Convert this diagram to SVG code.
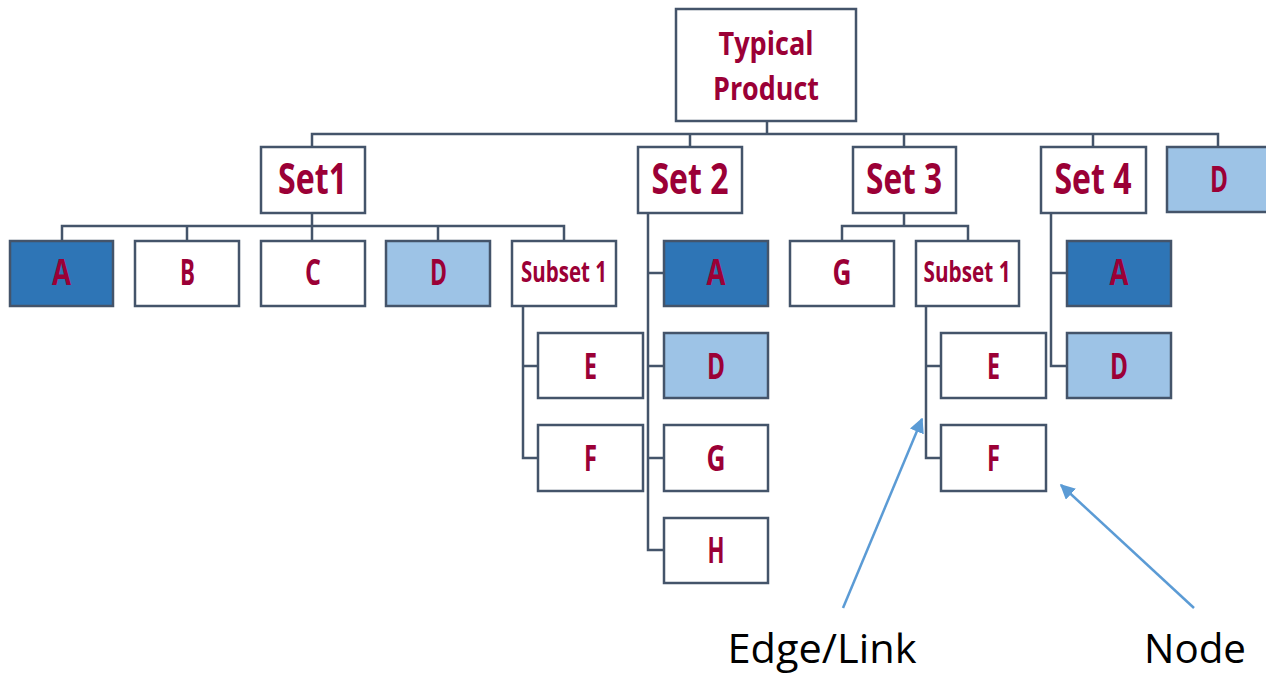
<svg xmlns="http://www.w3.org/2000/svg" width="1266" height="674" viewBox="0 0 1266 674">
  <defs>
    <style>
      .box { fill: #ffffff; stroke: #44546a; stroke-width: 2.5; }
      .dark { fill: #2e75b6; }
      .light { fill: #9dc3e6; }
      .lbl { font-family: "Open Sans", "Liberation Sans", sans-serif; font-weight: bold; fill: #9b0036; text-anchor: middle; }
      .big { font-size: 43px; }
      .mid { font-size: 35px; }
      .sub { font-size: 28px; }
      .top { font-size: 33px; }
      .wire { fill: none; stroke: #44546a; stroke-width: 2.5; stroke-linecap: square; }
      .pointer { fill: none; stroke: #5b9bd5; stroke-width: 2.5; marker-end: url(#head); }
      .note { font-family: "Open Sans", "Liberation Sans", sans-serif; font-size: 41px; fill: #000000; text-anchor: middle; }
    </style>
    <marker id="head" viewBox="0 0 10 10" refX="9" refY="5" markerWidth="6" markerHeight="6" markerUnits="strokeWidth" orient="auto">
      <path d="M0,0 L10,5 L0,10 z" fill="#5b9bd5"/>
    </marker>
  </defs>

  <rect width="1266" height="674" fill="#ffffff"/>

  <!-- tree connectors -->
  <g id="connectors" class="wire">
    <path d="M767,121 V134 M312,134 H1218 M312,134 V147 M690,134 V147 M904,134 V147 M1093,134 V147 M1218,134 V147"/>
    <!-- Set1 children -->
    <path d="M312,213 V226 M62,226 H564 M62,226 V241 M187,226 V241 M312,226 V241 M438,226 V241 M564,226 V241"/>
    <!-- Set1 / Subset 1 children -->
    <path d="M523,306 V458 M523,366 H538 M523,458 H538"/>
    <!-- Set2 children -->
    <path d="M648,213 V550 M648,273 H664 M648,366 H664 M648,458 H664 M648,550 H664"/>
    <!-- Set3 children -->
    <path d="M904,213 V226 M842,226 H968 M842,226 V241 M968,226 V241"/>
    <!-- Set3 / Subset 1 children -->
    <path d="M926,306 V458 M926,366 H941 M926,458 H941"/>
    <!-- Set4 children -->
    <path d="M1051,213 V366 M1051,273 H1067 M1051,366 H1067"/>
  </g>

  <!-- root -->
  <g id="typical-product">
    <rect class="box" x="676" y="9" width="180" height="112"/>
    <text class="lbl top" x="766" y="55" textLength="95" lengthAdjust="spacingAndGlyphs">Typical</text>
    <text class="lbl top" x="766" y="100" textLength="106" lengthAdjust="spacingAndGlyphs">Product</text>
  </g>

  <!-- level 1 -->
  <g id="set1">
    <rect class="box" x="261" y="147" width="104" height="66"/>
    <text class="lbl big" x="312.5" y="194" textLength="69" lengthAdjust="spacingAndGlyphs">Set1</text>
  </g>
  <g id="set2">
    <rect class="box" x="638" y="147" width="104" height="66"/>
    <text class="lbl big" x="690" y="194" textLength="77" lengthAdjust="spacingAndGlyphs">Set 2</text>
  </g>
  <g id="set3">
    <rect class="box" x="853" y="147" width="103" height="66"/>
    <text class="lbl big" x="904" y="194" textLength="76" lengthAdjust="spacingAndGlyphs">Set 3</text>
  </g>
  <g id="set4">
    <rect class="box" x="1041" y="147" width="105" height="66"/>
    <text class="lbl big" x="1093" y="194" textLength="77" lengthAdjust="spacingAndGlyphs">Set 4</text>
  </g>
  <g id="d-top">
    <rect class="box light" x="1167" y="147" width="103" height="65"/>
    <text class="lbl mid" x="1219" y="192" textLength="18" lengthAdjust="spacingAndGlyphs">D</text>
  </g>

  <!-- Set1 children -->
  <g id="set1-a">
    <rect class="box dark" x="10" y="241" width="103" height="65"/>
    <text class="lbl mid" x="61.5" y="285" textLength="19" lengthAdjust="spacingAndGlyphs">A</text>
  </g>
  <g id="set1-b">
    <rect class="box" x="135" y="241" width="104" height="65"/>
    <text class="lbl mid" x="187.5" y="285" textLength="15" lengthAdjust="spacingAndGlyphs">B</text>
  </g>
  <g id="set1-c">
    <rect class="box" x="261" y="241" width="104" height="65"/>
    <text class="lbl mid" x="313" y="285" textLength="16" lengthAdjust="spacingAndGlyphs">C</text>
  </g>
  <g id="set1-d">
    <rect class="box light" x="386" y="241" width="104" height="65"/>
    <text class="lbl mid" x="438.5" y="285" textLength="17" lengthAdjust="spacingAndGlyphs">D</text>
  </g>
  <g id="set1-subset1">
    <rect class="box" x="512" y="241" width="104" height="65"/>
    <text class="lbl sub" x="564" y="282" textLength="86" lengthAdjust="spacingAndGlyphs">Subset 1</text>
  </g>
  <g id="set1-subset1-e">
    <rect class="box" x="538" y="333" width="105" height="65"/>
    <text class="lbl mid" x="590.5" y="379" textLength="13" lengthAdjust="spacingAndGlyphs">E</text>
  </g>
  <g id="set1-subset1-f">
    <rect class="box" x="538" y="425" width="105" height="66"/>
    <text class="lbl mid" x="590.5" y="471" textLength="13" lengthAdjust="spacingAndGlyphs">F</text>
  </g>

  <!-- Set2 children -->
  <g id="set2-a">
    <rect class="box dark" x="664" y="241" width="104" height="65"/>
    <text class="lbl mid" x="716" y="285" textLength="19" lengthAdjust="spacingAndGlyphs">A</text>
  </g>
  <g id="set2-d">
    <rect class="box light" x="664" y="333" width="104" height="65"/>
    <text class="lbl mid" x="716" y="379" textLength="18" lengthAdjust="spacingAndGlyphs">D</text>
  </g>
  <g id="set2-g">
    <rect class="box" x="664" y="425" width="104" height="66"/>
    <text class="lbl mid" x="716" y="471" textLength="19" lengthAdjust="spacingAndGlyphs">G</text>
  </g>
  <g id="set2-h">
    <rect class="box" x="664" y="518" width="104" height="65"/>
    <text class="lbl mid" x="716" y="563" textLength="17" lengthAdjust="spacingAndGlyphs">H</text>
  </g>

  <!-- Set3 children -->
  <g id="set3-g">
    <rect class="box" x="790" y="241" width="104" height="65"/>
    <text class="lbl mid" x="842" y="285" textLength="19" lengthAdjust="spacingAndGlyphs">G</text>
  </g>
  <g id="set3-subset1">
    <rect class="box" x="916" y="241" width="103" height="65"/>
    <text class="lbl sub" x="967" y="282" textLength="87" lengthAdjust="spacingAndGlyphs">Subset 1</text>
  </g>
  <g id="set3-subset1-e">
    <rect class="box" x="941" y="333" width="105" height="65"/>
    <text class="lbl mid" x="993.5" y="379" textLength="13" lengthAdjust="spacingAndGlyphs">E</text>
  </g>
  <g id="set3-subset1-f">
    <rect class="box" x="941" y="425" width="105" height="66"/>
    <text class="lbl mid" x="993.5" y="471" textLength="13" lengthAdjust="spacingAndGlyphs">F</text>
  </g>

  <!-- Set4 children -->
  <g id="set4-a">
    <rect class="box dark" x="1067" y="241" width="104" height="65"/>
    <text class="lbl mid" x="1119" y="285" textLength="19" lengthAdjust="spacingAndGlyphs">A</text>
  </g>
  <g id="set4-d">
    <rect class="box light" x="1067" y="333" width="104" height="65"/>
    <text class="lbl mid" x="1119" y="379" textLength="18" lengthAdjust="spacingAndGlyphs">D</text>
  </g>

  <!-- annotations -->
  <g id="annotations">
    <line class="pointer" x1="843" y1="608" x2="922" y2="419"/>
    <line class="pointer" x1="1194" y1="608" x2="1061" y2="485"/>
    <text class="note" x="822" y="663" textLength="189" lengthAdjust="spacingAndGlyphs">Edge/Link</text>
    <text class="note" x="1195" y="663" textLength="102" lengthAdjust="spacingAndGlyphs">Node</text>
  </g>
</svg>
